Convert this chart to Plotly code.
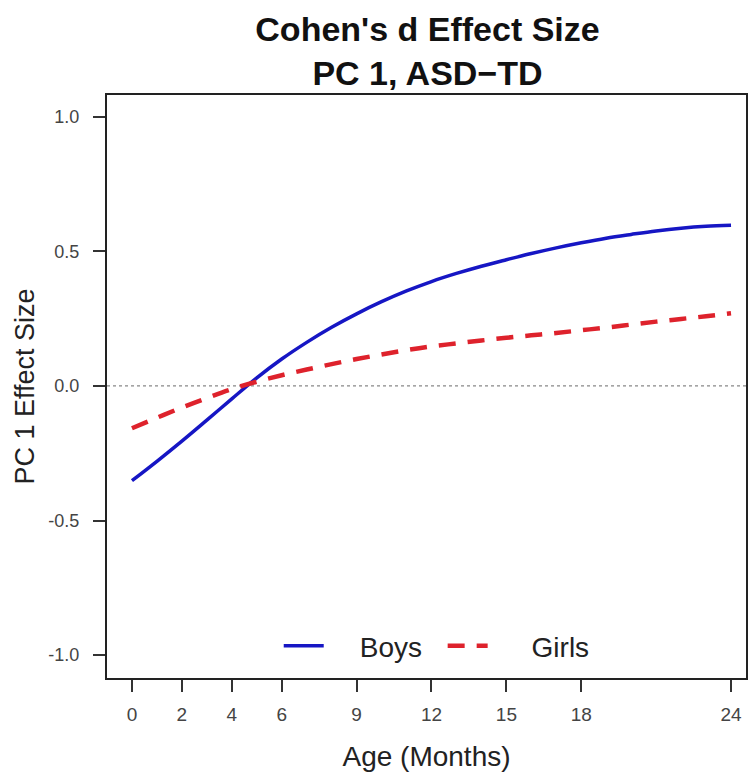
import plotly.graph_objects as go

months = [0, 1, 2, 3, 4, 5, 6, 7, 8, 9, 10, 11, 12, 13, 14, 15, 16, 17, 18, 19, 20, 21, 22, 23, 24]
boys = [-0.352, -0.28, -0.205, -0.127, -0.048, 0.03, 0.10, 0.162, 0.218, 0.268, 0.313, 0.353,
        0.388, 0.418, 0.445, 0.469, 0.492, 0.513, 0.532, 0.549, 0.563, 0.576, 0.586, 0.593, 0.597]
girls = [-0.157, -0.118, -0.08, -0.045, -0.012, 0.016, 0.04, 0.061, 0.081, 0.10, 0.117, 0.133,
         0.147, 0.158, 0.169, 0.179, 0.188, 0.197, 0.207, 0.217, 0.228, 0.239, 0.249, 0.259, 0.27]
x_ticks = [0, 2, 4, 6, 9, 12, 15, 18, 24]
y_ticks = [-1.0, -0.5, 0.0, 0.5, 1.0]
y_tick_labels = ["-1.0", "-0.5", "0.0", "0.5", "1.0"]
series_names = ["Boys", "Girls"]

FONT = "Liberation Sans, Arial, sans-serif"
NB = "\u00a0"

fig = go.Figure()
fig.add_trace(go.Scatter(x=months, y=boys, mode="lines", name=NB * 4 + series_names[0] + NB * 2,
                         line=dict(color="#1616c4", width=3.5, shape="spline")))
fig.add_trace(go.Scatter(x=months, y=girls, mode="lines", name=NB * 5 + series_names[1],
                         line=dict(color="#de222c", width=4.5, dash="17px,12px", shape="spline")))

fig.add_shape(type="line", xref="paper", x0=0, x1=1, yref="y", y0=0, y1=0,
              line=dict(color="#888888", width=1.2, dash="dot"), layer="below")

fig.update_layout(
    width=750, height=775,
    margin=dict(l=107, r=2, t=95, b=97),
    paper_bgcolor="white", plot_bgcolor="white",
    font=dict(family=FONT, color="#222222"),
    title=dict(text="<b>Cohen's d Effect Size<br>PC 1, ASD\u2212TD</b>",
               font=dict(size=34, color="#111111", family=FONT),
               x=0.57, xref="container", xanchor="center",
               y=1 - 41 / 775, yref="container", yanchor="middle"),
    showlegend=True,
    legend=dict(orientation="h", x=0.516, xanchor="center", y=0.055, yanchor="middle",
                font=dict(size=28, color="#222222", family=FONT),
                bgcolor="rgba(0,0,0,0)", itemwidth=40, tracegroupgap=0),
    xaxis=dict(range=[-1, 24.6], tickmode="array", tickvals=x_ticks,
               ticks="outside", ticklen=12, tickwidth=1.5, tickcolor="#333333",
               showline=True, mirror=True, linecolor="#222222", linewidth=2,
               showgrid=False, zeroline=False, ticklabelstandoff=6,
               tickfont=dict(size=19, color="#444444"),
               title=dict(text="Age (Months)", font=dict(size=28, color="#222222"), standoff=23)),
    yaxis=dict(range=[-1.085, 1.081], tickmode="array", tickvals=y_ticks, ticktext=y_tick_labels,
               ticks="outside", ticklen=12, tickwidth=1.5, tickcolor="#333333",
               showline=True, mirror=True, linecolor="#222222", linewidth=2,
               showgrid=False, zeroline=False, ticklabelstandoff=10,
               tickfont=dict(size=18, color="#444444"),
               title=dict(text="PC 1 Effect Size", font=dict(size=27, color="#222222"), standoff=6)),
)

fig.write_html("out.html")
